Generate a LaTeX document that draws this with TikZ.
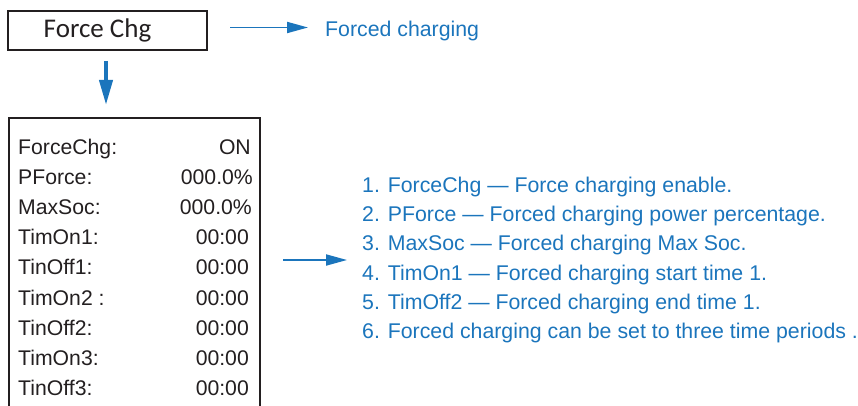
\documentclass[tikz,border=0pt]{standalone}
\usepackage{fontspec}
\setmainfont{Liberation Sans}
\newfontfamily\boxfont{Carlito}
\usetikzlibrary{
    positioning,
    arrows.meta
}
\definecolor{hintblue}{HTML}{1B75BC}
\definecolor{inkgray}{HTML}{231F20}

\begin{document}
\begin{tikzpicture}[
      x=1pt, y=-1pt,
      screen/.style={draw=inkgray, line width=2pt, inner sep=0pt},
      item/.style={text=inkgray, inner sep=0pt, font=\fontsize{21.2}{25}\selectfont},
      hint/.style={text=hintblue, inner sep=0pt, font=\fontsize{21.3}{29.2}\selectfont, align=left},
      arrow/.style={-{Triangle[length=21pt,width=11pt]}, draw=hintblue, line width=1.9pt},
      down/.style={-{Triangle[length=25pt,width=13pt]}, draw=hintblue, line width=4pt}
    ]
    \clip (0,0) rectangle (858,406);

    \node[screen, minimum width=199pt, minimum height=39pt, font=\boxfont\fontsize{27}{30}\selectfont, text=inkgray]
      (chg) at (107.5,30.5) {Force Chg\hspace*{20pt}};
    \node[hint, anchor=base west] (title) at (325,36.7) {Forced charging};

    \node[screen, minimum width=251.5pt, minimum height=301.5pt] (panel) at (134.25,269.25) {};

    \node[item, anchor=base west] (k1) at (18,154) {ForceChg:};
    \node[item, anchor=base west] (k2) at (18,184.2) {PForce:};
    \node[item, anchor=base west] (k3) at (18,214.4) {MaxSoc:};
    \node[item, anchor=base west] (k4) at (18,244.6) {TimOn1:};
    \node[item, anchor=base west] (k5) at (18,274.8) {TinOff1:};
    \node[item, anchor=base west] (k6) at (18,305) {TimOn2 :};
    \node[item, anchor=base west] (k7) at (18,335.2) {TinOff2:};
    \node[item, anchor=base west] (k8) at (18,365.4) {TimOn3:};
    \node[item, anchor=base west] (k9) at (18,395.6) {TinOff3:};

    \node[item, anchor=base east] (v1) at (251,154) {ON};
    \node[item, anchor=base east] (v2) at (253,184.2) {000.0\%};
    \node[item, anchor=base east] (v3) at (252,214.4) {000.0\%};
    \node[item, anchor=base east] (v4) at (249,244.6) {00:00};
    \node[item, anchor=base east] (v5) at (249,274.8) {00:00};
    \node[item, anchor=base east] (v6) at (249,305) {00:00};
    \node[item, anchor=base east] (v7) at (249,335.2) {00:00};
    \node[item, anchor=base east] (v8) at (249,365.4) {00:00};
    \node[item, anchor=base east] (v9) at (249,395.6) {00:00};

    \node[hint, anchor=west] (list) at (362,260) {%
      1. ForceChg — Force charging enable.\\
      2. PForce — Forced charging power percentage.\\
      3. MaxSoc — Forced charging Max Soc.\\
      4. TimOn1 — Forced charging start time 1.\\
      5. TimOff2 — Forced charging end time 1.\\
      6. Forced charging can be set to three time periods .};

    \draw[arrow, shorten <=22pt, shorten >=17pt]
      ([yshift=3pt]chg.east) -- ([yshift=3pt]chg.east -| title.west);
    \draw[down, shorten <=10pt, shorten >=12.5pt]
      ([xshift=-1.5pt]chg.south) -- ([xshift=-1.5pt]chg.south |- panel.north);
    \draw[arrow, shorten <=22pt, shorten >=15pt]
      (panel.east |- list.west) -- (list.west);
  \end{tikzpicture}
\end{document}
